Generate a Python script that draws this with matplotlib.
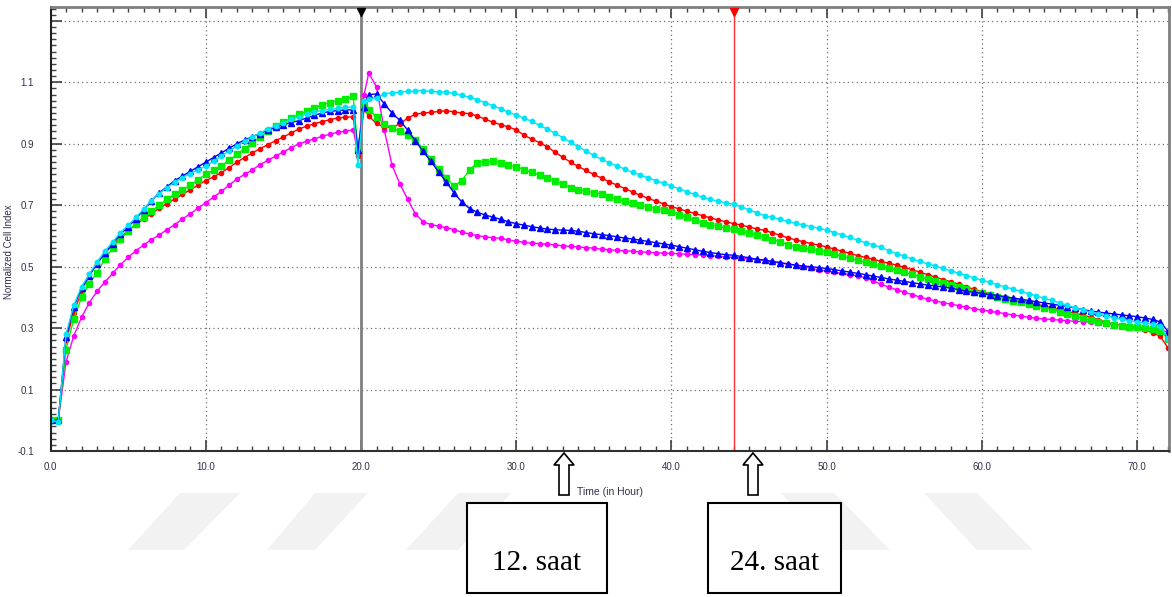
import numpy as np
import matplotlib
matplotlib.use("Agg")
import matplotlib.pyplot as plt
from matplotlib.ticker import MultipleLocator
from matplotlib.patches import Polygon, Rectangle

# sampling times (h): every 30 min, plus the two sweeps around the medium change
hours = np.r_[np.arange(0, 19.6, 0.5), 19.8, 20.2, np.arange(20.5, 72.1, 0.5)]

red = [0.00, 0.00, 0.26, 0.35, 0.42, 0.475, 0.51, 0.545, 0.57, 0.595,
       0.617, 0.637, 0.655, 0.672, 0.69, 0.705, 0.72, 0.735, 0.75, 0.765,
       0.78, 0.792, 0.806, 0.822, 0.84, 0.855, 0.87, 0.884, 0.897, 0.91,
       0.922, 0.935, 0.948, 0.957, 0.965, 0.972, 0.978, 0.984, 0.986, 0.988,
       0.86, 1.012,
       0.99, 0.966, 0.954, 0.952, 0.965, 0.983, 0.996, 1.0, 1.002, 1.005,
       1.007, 1.004, 1.0, 0.998, 0.99, 0.98, 0.97, 0.962, 0.955, 0.945,
       0.928, 0.915, 0.904, 0.89, 0.872, 0.856, 0.84, 0.826, 0.813, 0.8,
       0.788, 0.776, 0.765, 0.754, 0.743, 0.732, 0.722, 0.713, 0.704, 0.695,
       0.688, 0.68, 0.673, 0.666, 0.659, 0.652, 0.646, 0.64, 0.635, 0.629,
       0.623, 0.618, 0.61, 0.602, 0.594, 0.587, 0.581, 0.575, 0.57, 0.564,
       0.557, 0.55, 0.543, 0.536, 0.53, 0.524, 0.517, 0.511, 0.505, 0.498,
       0.49, 0.482, 0.474, 0.466, 0.458, 0.451, 0.443, 0.434, 0.426, 0.418,
       0.412, 0.406, 0.4, 0.394, 0.389, 0.384, 0.378, 0.372, 0.366, 0.36,
       0.354, 0.348, 0.342, 0.335, 0.327, 0.319, 0.312, 0.307, 0.303, 0.299,
       0.293, 0.285, 0.273, 0.234]

green = [0.00, 0.00, 0.23, 0.33, 0.40, 0.445, 0.48, 0.525, 0.56, 0.59,
         0.615, 0.64, 0.66, 0.68, 0.70, 0.72, 0.735, 0.75, 0.765, 0.783,
         0.80, 0.814, 0.828, 0.846, 0.865, 0.884, 0.903, 0.922, 0.94, 0.957,
         0.97, 0.983, 0.996, 1.006, 1.017, 1.027, 1.034, 1.04, 1.047, 1.054,
         0.88, 1.025,
         1.01, 0.987, 0.965, 0.95, 0.94, 0.927, 0.913, 0.883, 0.85, 0.818,
         0.788, 0.762, 0.78, 0.815, 0.838, 0.842, 0.843, 0.838, 0.831, 0.825,
         0.816, 0.807, 0.798, 0.789, 0.779, 0.768, 0.757, 0.751, 0.746, 0.741,
         0.736, 0.728, 0.72, 0.713, 0.706, 0.70, 0.694, 0.689, 0.684, 0.678,
         0.669, 0.66, 0.651, 0.643, 0.637, 0.631, 0.626, 0.621, 0.615, 0.609,
         0.602, 0.596, 0.588, 0.58, 0.572, 0.565, 0.561, 0.556, 0.552, 0.548,
         0.541, 0.534, 0.527, 0.52, 0.514, 0.508, 0.501, 0.495, 0.489, 0.482,
         0.475, 0.467, 0.46, 0.454, 0.447, 0.44, 0.433, 0.426, 0.419, 0.413,
         0.407, 0.401, 0.395, 0.389, 0.384, 0.379, 0.373, 0.367, 0.361, 0.354,
         0.347, 0.34, 0.332, 0.326, 0.32, 0.315, 0.311, 0.307, 0.304, 0.302,
         0.299, 0.296, 0.29, 0.266]

blue = [0.00, 0.00, 0.27, 0.37, 0.43, 0.47, 0.51, 0.545, 0.575, 0.605,
        0.63, 0.655, 0.685, 0.715, 0.74, 0.76, 0.78, 0.795, 0.81, 0.825,
        0.84, 0.855, 0.87, 0.885, 0.90, 0.912, 0.923, 0.933, 0.944, 0.954,
        0.962, 0.969, 0.975, 0.984, 0.992, 1.0, 1.005, 1.008, 1.01, 1.01,
        0.88, 1.02,
        1.06, 1.062, 1.03, 1.0, 0.976, 0.945, 0.91, 0.875, 0.843, 0.808,
        0.775, 0.74, 0.71, 0.689, 0.677, 0.668, 0.661, 0.654, 0.646, 0.64,
        0.635, 0.63, 0.626, 0.622, 0.62, 0.619, 0.618, 0.615, 0.611, 0.607,
        0.604, 0.601, 0.597, 0.593, 0.59, 0.586, 0.582, 0.578, 0.574, 0.57,
        0.565, 0.56, 0.555, 0.55, 0.546, 0.542, 0.539, 0.537, 0.533, 0.529,
        0.524, 0.521, 0.517, 0.513, 0.509, 0.505, 0.502, 0.5, 0.497, 0.494,
        0.49, 0.486, 0.482, 0.478, 0.474, 0.469, 0.465, 0.46, 0.456, 0.452,
        0.448, 0.444, 0.44, 0.437, 0.434, 0.43, 0.425, 0.42, 0.416, 0.413,
        0.409, 0.406, 0.402, 0.398, 0.394, 0.39, 0.386, 0.382, 0.378, 0.374,
        0.37, 0.366, 0.36, 0.356, 0.352, 0.349, 0.346, 0.343, 0.34, 0.337,
        0.333, 0.328, 0.32, 0.288]

cyan = [0.00, -0.005, 0.28, 0.375, 0.435, 0.475, 0.515, 0.55, 0.58, 0.61,
        0.635, 0.66, 0.688, 0.715, 0.738, 0.757, 0.775, 0.79, 0.803, 0.815,
        0.828, 0.843, 0.86, 0.876, 0.893, 0.908, 0.922, 0.935, 0.948, 0.958,
        0.968, 0.979, 0.988, 0.997, 1.003, 1.008, 1.012, 1.015, 1.018, 1.02,
        0.83, 1.04,
        1.045, 1.05, 1.062, 1.066, 1.068, 1.07, 1.072, 1.073, 1.07, 1.069,
        1.068, 1.064, 1.058, 1.051, 1.043, 1.034, 1.024, 1.013, 1.003, 0.993,
        0.983, 0.973, 0.96, 0.948, 0.934, 0.92, 0.905, 0.89, 0.876, 0.862,
        0.849, 0.838, 0.828, 0.817, 0.807, 0.798, 0.789, 0.78, 0.771, 0.762,
        0.753, 0.744, 0.735, 0.726, 0.719, 0.713, 0.708, 0.703, 0.695, 0.685,
        0.675, 0.666, 0.66, 0.654, 0.647, 0.641, 0.636, 0.63, 0.625, 0.619,
        0.611, 0.603, 0.595, 0.586, 0.578, 0.571, 0.563, 0.552, 0.542, 0.534,
        0.525, 0.517, 0.509, 0.502, 0.494, 0.486, 0.479, 0.471, 0.463, 0.456,
        0.449, 0.441, 0.434, 0.427, 0.42, 0.412, 0.405, 0.397, 0.39, 0.382,
        0.374, 0.366, 0.359, 0.352, 0.346, 0.34, 0.334, 0.329, 0.324, 0.32,
        0.317, 0.313, 0.306, 0.266]

magenta = [0.00, 0.00, 0.19, 0.275, 0.335, 0.383, 0.42, 0.45, 0.478, 0.506,
           0.53, 0.552, 0.57, 0.588, 0.603, 0.62, 0.637, 0.655, 0.672, 0.69,
           0.708, 0.726, 0.745, 0.765, 0.785, 0.80, 0.815, 0.832, 0.846, 0.86,
           0.873, 0.887, 0.90, 0.908, 0.916, 0.924, 0.931, 0.937, 0.941, 0.945,
           0.87, 1.06,
           1.13, 1.085, 0.945, 0.83, 0.77, 0.72, 0.672, 0.646, 0.637, 0.632,
           0.627, 0.62, 0.612, 0.606, 0.601, 0.597, 0.594, 0.592, 0.587, 0.583,
           0.579, 0.576, 0.575, 0.573, 0.571, 0.568, 0.566, 0.564, 0.562, 0.56,
           0.557, 0.555, 0.553, 0.552, 0.55, 0.548, 0.547, 0.545, 0.544, 0.543,
           0.542, 0.54, 0.539, 0.538, 0.536, 0.534, 0.532, 0.53, 0.528, 0.525,
           0.523, 0.52, 0.516, 0.512, 0.508, 0.505, 0.5, 0.495, 0.49, 0.486,
           0.482, 0.478, 0.474, 0.47, 0.464, 0.453, 0.443, 0.433, 0.425, 0.417,
           0.409, 0.401, 0.394, 0.388, 0.383, 0.378, 0.373, 0.368, 0.363, 0.359,
           0.355, 0.351, 0.347, 0.343, 0.339, 0.335, 0.332, 0.33, 0.328, 0.326,
           0.324, 0.322, 0.321, 0.319, 0.317, 0.315, 0.312, 0.309, 0.306, 0.304,
           0.301, 0.297, 0.292, 0.288]

y_ticks = [-0.1, 0.1, 0.3, 0.5, 0.7, 0.9, 1.1, 1.3]
y_labels = ["-0.1", "0.1", "0.3", "0.5", "0.7", "0.9", "1.1", ""]
x_ticks = [0, 10, 20, 30, 40, 50, 60, 70]
x_labels = ["0.0", "10.0", "20.0", "30.0", "40.0", "50.0", "60.0", "70.0"]
markers_at = [20.0, 44.0]      # medium change / treatment marks
boxes = ["12. saat", "24. saat"]

plt.rcParams['font.family'] = ['Liberation Sans', 'DejaVu Sans']

W, H = 1172, 597
fig = plt.figure(figsize=(W / 100, H / 100), dpi=100)
ax = fig.add_axes([50.5 / W, 1 - 451 / H, (1169 - 50.5) / W, (451 - 7) / H])

# faint watermark bands under everything
def px_poly(pts, **kw):
    verts = [(x / W, 1 - y / H) for x, y in pts]
    fig.patches.append(Polygon(verts, closed=True, transform=fig.transFigure, **kw))

band = dict(fc="#f2f2f2", ec="none", zorder=0)
for (t0, t1, b0, b1) in [(180, 240, 128, 184), (315, 368, 267, 315), (458, 511, 406, 458)]:
    px_poly([(t0, 493), (t1, 493), (b1, 550), (b0, 550)], **band)
for (t0, t1, b0, b1) in [(781, 834, 834, 890), (924, 977, 977, 1033)]:
    px_poly([(t0, 493), (t1, 493), (b1, 550), (b0, 550)], **band)

series = [
    (magenta, "#ff00ff", "o", 3.0),
    (red, "#ff0000", "o", 3.0),
    (green, "#00ee00", "s", 4.6),
    (blue, "#0000ff", "^", 4.2),
    (cyan, "#00e5f5", "o", 3.2),
]
for vals, col, mk, ms in series:
    ax.plot(hours, vals, color=col, lw=1.0, marker=mk, ms=ms, mec=col, mfc=col)

ax.axvline(markers_at[0], color="#808080", lw=2, zorder=1)
ax.axvline(markers_at[1], color="#ff3030", lw=1, zorder=1)

ax.set_xlim(0, 72.05)
ax.set_ylim(-0.1, 1.345)
ax.plot([markers_at[0]], [1.33], marker="v", color="black", ms=6, clip_on=False, zorder=5)
ax.plot([markers_at[1]], [1.33], marker="v", color="red", ms=6, clip_on=False, zorder=5)

ax.set_xticks(x_ticks)
ax.set_xticklabels(x_labels)
ax.set_yticks(y_ticks)
ax.set_yticklabels(y_labels)
ax.xaxis.set_minor_locator(MultipleLocator(1))
ax.yaxis.set_minor_locator(MultipleLocator(0.02))
ax.tick_params(which="both", direction="in", top=True, colors="#404040",
               labelcolor="#30304a", labelsize=7)
ax.tick_params(which="major", length=8, width=1.2)
ax.tick_params(which="minor", length=3.5, width=1)
ax.tick_params(axis="x", pad=8)
ax.tick_params(axis="y", pad=12)

ax.grid(True, which="major", color="#707070", lw=0.9, ls=(0, (1, 2.5)))
ax.set_axisbelow(True)
for side, col, lw in [("left", "#202020", 1.5), ("bottom", "#303030", 1.5),
                      ("top", "#808080", 2), ("right", "#808080", 2)]:
    ax.spines[side].set_color(col)
    ax.spines[side].set_linewidth(lw)

ax.set_ylabel("Normalized Cell Index", fontsize=7, color="#30304a")
ax.yaxis.set_label_coords(-0.033, 0.45)
ax.set_xlabel("Time (in Hour)", fontsize=7.5, color="#30304a")
ax.xaxis.set_label_coords(0.5, -0.081)

# hollow arrows pointing at the time axis
def up_arrow(cx):
    pts = [(cx, 453), (cx + 10, 465), (cx + 5, 465), (cx + 5, 495),
           (cx - 5, 495), (cx - 5, 465), (cx - 10, 465)]
    px_poly(pts, fc="white", ec="black", lw=1.2, zorder=3)

up_arrow(564)
up_arrow(753)

for (x0, x1), label in zip([(467, 607), (708, 841)], boxes):
    fig.patches.append(Rectangle((x0 / W, 1 - 593 / H), (x1 - x0) / W, 90 / H,
                                 transform=fig.transFigure, fc="white",
                                 ec="black", lw=1.5, zorder=3))
    fig.text((x0 + x1) / 2 / W, 1 - 563 / H, label, ha="center", va="center",
             fontsize=21, family="Liberation Serif", zorder=4)

fig.savefig("out.png", dpi=100)
